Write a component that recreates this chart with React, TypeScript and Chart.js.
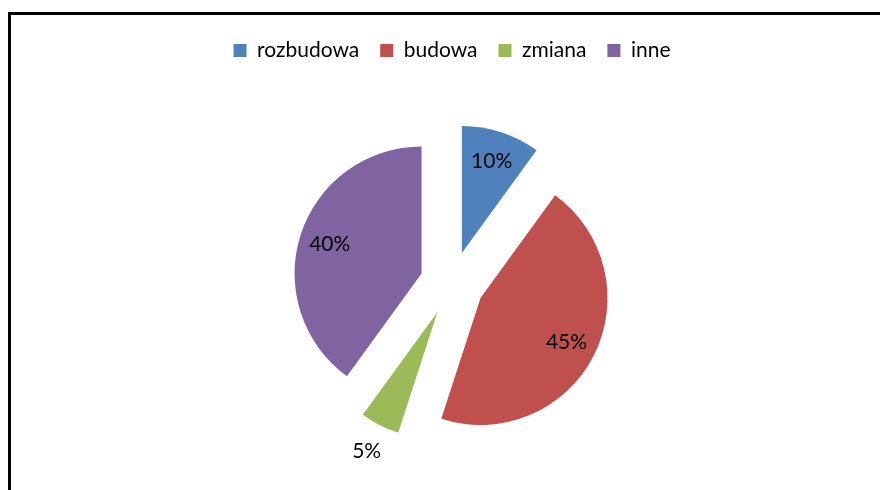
import React, { useEffect, useRef } from "react";
import { Chart, registerables } from "chart.js";

Chart.register(...registerables);

const categories = ["rozbudowa", "budowa", "zmiana", "inne"];
const values = [10, 45, 5, 40];
const colors = ["#4F81BD", "#C0504D", "#9BBB59", "#8064A2"];
// Excel-style point explosion distance (px) along each slice's bisector
const explode = [32, 32, 32, 32];

const FONT = "Lato, 'Open Sans', sans-serif";

const explodePlugin = {
  id: "explodeSlices",
  afterDatasetUpdate(chart: any, args: any) {
    const meta = args.meta;
    meta.data.forEach((arc: any, i: number) => {
      const d = explode[i] || 0;
      const mid = (arc.startAngle + arc.endAngle) / 2;
      arc.x += Math.cos(mid) * d;
      arc.y += Math.sin(mid) * d;
    });
  },
};

const labelPlugin = {
  id: "sliceLabels",
  afterDatasetsDraw(chart: any) {
    const ctx = chart.ctx;
    const meta = chart.getDatasetMeta(0);
    const data = chart.data.datasets[0].data as number[];
    const total = data.reduce((a, b) => a + b, 0);
    ctx.save();
    ctx.font = `21px ${FONT}`;
    ctx.fillStyle = "#000";
    ctx.textAlign = "center";
    ctx.textBaseline = "middle";
    meta.data.forEach((arc: any, i: number) => {
      const { x, y, startAngle, endAngle, outerRadius } = arc;
      const mid = (startAngle + endAngle) / 2;
      const frac = data[i] / total;
      const r = frac < 0.08 ? outerRadius + 29 : outerRadius * 0.76;
      ctx.fillText(
        `${Math.round(frac * 100)}%`,
        x + Math.cos(mid) * r,
        y + Math.sin(mid) * r
      );
    });
    ctx.restore();
  },
};

export default function App() {
  const ref = useRef<HTMLCanvasElement | null>(null);
  useEffect(() => {
    if (!ref.current) return;
    const chart = new Chart(ref.current, {
      type: "pie",
      data: {
        labels: categories,
        datasets: [
          {
            data: values,
            backgroundColor: colors,
            borderWidth: 0,
          },
        ],
      },
      options: {
        animation: false,
        responsive: true,
        maintainAspectRatio: false,
        radius: 127,
        layout: { padding: { left: 24, right: 0, top: 19, bottom: 4 } },
        plugins: {
          legend: {
            position: "top",
            labels: {
              boxWidth: 13,
              boxHeight: 13,
              padding: 21,
              color: "#000",
              font: { family: FONT, size: 21 },
            },
          },
          tooltip: { enabled: false },
        },
      },
      plugins: [explodePlugin, labelPlugin],
    });
    return () => chart.destroy();
  }, []);
  return (
    <div
      style={{
        position: "fixed",
        left: 0,
        top: 0,
        width: 880,
        height: 490,
        background: "#fff",
        overflow: "hidden",
      }}
    >
      <div style={{ position: "absolute", left: 0, top: 0, width: 880, height: 500 }}>
        <canvas ref={ref} />
      </div>
      <div
        style={{
          position: "absolute",
          left: 8,
          top: 12,
          width: 880,
          height: 490,
          borderLeft: "3px solid #000",
          borderTop: "3px solid #000",
          pointerEvents: "none",
        }}
      />
    </div>
  );
}
